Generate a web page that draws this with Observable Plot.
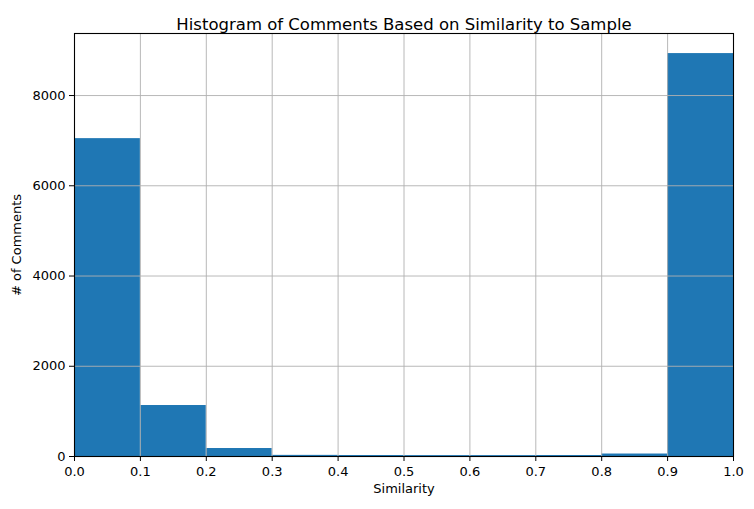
<!DOCTYPE html>
<html>
<head>
<meta charset="utf-8">
<script src="https://cdn.jsdelivr.net/npm/d3@7"></script>
<script src="https://cdn.jsdelivr.net/npm/@observablehq/plot@0.6"></script>
<style>
  html, body { margin: 0; padding: 0; background: #ffffff; }
</style>
</head>
<body>
<div id="chart"></div>
<script>
const titleText = "Histogram of Comments Based on Similarity to Sample";
const xLabel = "Similarity";
const yLabel = "# of Comments";
const binStarts = [0.0, 0.1, 0.2, 0.3, 0.4, 0.5, 0.6, 0.7, 0.8, 0.9];
const binEnds   = [0.1, 0.2, 0.3, 0.4, 0.5, 0.6, 0.7, 0.8, 0.9, 1.0];
const counts    = [7045, 1130, 177, 25, 22, 20, 20, 22, 55, 8930];
const xTicks = [0.0, 0.1, 0.2, 0.3, 0.4, 0.5, 0.6, 0.7, 0.8, 0.9, 1.0];
const yTicks = [0, 2000, 4000, 6000, 8000];
const yMax = 9375;

const bins = binStarts.map((s, i) => ({x1: s, x2: binEnds[i], count: counts[i]}));

const chart = Plot.plot({
  width: 754,
  height: 509,
  marginLeft: 74,
  marginRight: 21,
  marginTop: 33,
  marginBottom: 53,
  style: {fontFamily: "DejaVu Sans", fontSize: "13px", background: "#ffffff", color: "#000"},
  x: {domain: [0, 1]},
  y: {domain: [0, yMax]},
  marks: [
    Plot.rectY(bins, {x1: "x1", x2: "x2", y1: 0, y2: "count", fill: "#1f77b4", inset: 0}),
    Plot.gridX({ticks: xTicks, stroke: "#b0b0b0", strokeOpacity: 1, strokeWidth: 0.9}),
    Plot.gridY({ticks: yTicks, stroke: "#b0b0b0", strokeOpacity: 1, strokeWidth: 0.9}),
    Plot.frame({stroke: "#000", strokeWidth: 1.1}),
    Plot.axisX({ticks: xTicks, tickFormat: d3.format(".1f"), tickSize: 5, tickPadding: 5, fontSize: 13, label: null}),
    Plot.axisY({ticks: yTicks, tickFormat: d => String(d), tickSize: 5, tickPadding: 4, fontSize: 13, label: null}),
    Plot.text([titleText], {frameAnchor: "top", dy: -15, fontSize: 16.5}),
    Plot.text([xLabel], {frameAnchor: "bottom", dy: 36, fontSize: 13}),
    Plot.text([yLabel], {frameAnchor: "left", textAnchor: "middle", dx: -58, rotate: -90, fontSize: 13})
  ]
});
document.getElementById("chart").appendChild(chart);
</script>
</body>
</html>
